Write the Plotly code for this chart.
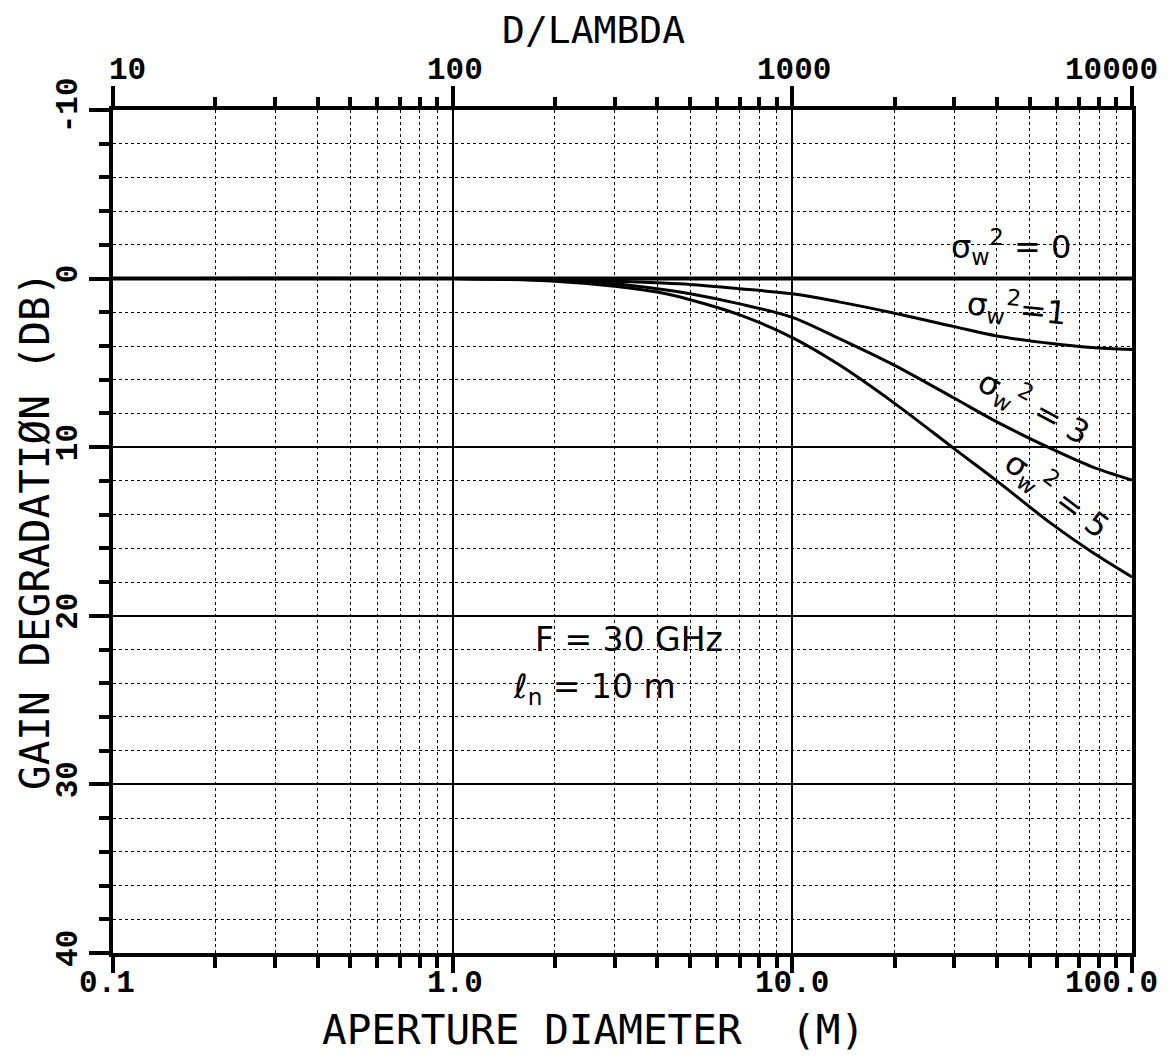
import numpy as np
import plotly.graph_objects as go

# ---- data ----
diameter_m = [0.1, 1.0, 2.0, 3.0, 4.0, 5.0, 7.0, 10.0, 13.7, 20.0, 30.0, 40.0, 58.0, 76.0, 100.0]
loss_s0 = [0.0] * len(diameter_m)
loss_s1 = [0.0, 0.0, 0.05, 0.15, 0.25, 0.35, 0.6, 0.9, 1.38, 2.05, 2.85, 3.4, 3.85, 4.08, 4.2]
loss_s3 = [0.0, 0.0, 0.1, 0.3, 0.6, 0.9, 1.5, 2.3, 3.55, 5.15, 7.1, 8.5, 10.1, 11.15, 11.95]
loss_s5 = [0.0, 0.0, 0.15, 0.45, 0.8, 1.25, 2.15, 3.5, 5.1, 7.4, 10.1, 12.0, 14.55, 16.2, 17.7]

x_tick_vals = [0.1, 1.0, 10.0, 100.0]
x_tick_text = ["0.1", "1.0", "10.0", "100.0"]
top_tick_vals = [10, 100, 1000, 10000]
top_tick_text = ["10", "100", "1000", "10000"]
y_tick_vals = [-10, 0, 10, 20, 30, 40]
y_tick_text = ["-10", "0", "10", "20", "30", "40"]

x_minor = [m * 10.0 ** e for e in (-1, 0, 1) for m in range(2, 10)]
top_minor = [m * 10.0 ** e for e in (1, 2, 3) for m in range(2, 10)]
y_minor = list(range(-10, 41, 2))

INK = "black"
tickfont = dict(family="Liberation Mono", size=31, color=INK, weight="bold")
titlefont = dict(family="DejaVu Sans Mono", size=41, color=INK)

fig = go.Figure()
for i, ys in enumerate((loss_s0, loss_s1, loss_s3, loss_s5)):
    fig.add_trace(go.Scatter(x=diameter_m, y=ys, mode="lines",
                             line=dict(color=INK, width=4 if i == 0 else 3,
                                       shape="spline", smoothing=0.9),
                             showlegend=False, hoverinfo="skip"))
# invisible trace to activate top axis
fig.add_trace(go.Scatter(x=[10, 10000], y=[0, 0], xaxis="x2", mode="markers",
                         marker=dict(opacity=0), showlegend=False, hoverinfo="skip"))

fig.update_layout(
    width=1172, height=1063,
    margin=dict(l=113, r=40, t=110, b=110, autoexpand=False),
    paper_bgcolor="white", plot_bgcolor="white",
    xaxis=dict(type="log", range=[-1, 2], showline=True, linewidth=4, linecolor=INK,
               mirror=False, ticks="outside", ticklen=16, tickwidth=4, tickcolor=INK,
               tickvals=x_tick_vals, showticklabels=False,
               showgrid=True, gridcolor=INK, gridwidth=1.5, zeroline=False, automargin=False,
               minor=dict(tickvals=x_minor, ticks="outside", ticklen=11, tickwidth=4,
                          tickcolor=INK, showgrid=True, gridcolor=INK, gridwidth=1.3,
                          griddash="dot")),
    xaxis2=dict(type="log", range=[1, 4], overlaying="x", side="top", anchor="y",
                showline=True, linewidth=4, linecolor=INK, automargin=False,
                ticks="outside", ticklen=20, tickwidth=4, tickcolor=INK,
                tickvals=top_tick_vals, showticklabels=False,
                showgrid=False, zeroline=False,
                minor=dict(tickvals=top_minor, ticks="outside", ticklen=9, tickwidth=4,
                           tickcolor=INK, showgrid=False)),
    yaxis=dict(range=[40, -10], showline=True, linewidth=4, linecolor=INK, mirror=True,
               ticks="outside", ticklen=20, tickwidth=4, tickcolor=INK, automargin=False,
               tickvals=y_tick_vals, ticktext=y_tick_text, tickfont=tickfont, tickangle=-90,
               showgrid=True, gridcolor=INK, gridwidth=1.5, zeroline=False,
               minor=dict(tickvals=y_minor, ticks="outside", ticklen=10, tickwidth=4,
                          tickcolor=INK, showgrid=True, gridcolor=INK, gridwidth=1.3,
                          griddash="dot")),
)

annotations = []
# bottom tick labels (aperture diameter)
bottom_shift = [-6, 2, 0, 0]
for v, t, s in zip(x_tick_vals, x_tick_text, bottom_shift):
    last = v == x_tick_vals[-1]
    annotations.append(dict(text=t, x=np.log10(v), y=-0.036, xref="x", yref="paper",
                            xanchor="right" if last else "center", yanchor="middle",
                            xshift=28 if last else s, showarrow=False, font=tickfont))
# top tick labels (D/lambda)
top_shift = [14, 2, 2, 0]
for v, t, s in zip(top_tick_vals, top_tick_text, top_shift):
    last = v == top_tick_vals[-1]
    annotations.append(dict(text=t, x=np.log10(v), y=1.047, xref="x2", yref="paper",
                            xanchor="right" if last else "center", yanchor="middle",
                            xshift=28 if last else s, showarrow=False, font=tickfont))

ann_font = dict(family="DejaVu Sans", size=32, color=INK)
txt_font = dict(family="DejaVu Sans", size=33, color=INK)
sig = "σ<sub>w</sub><sup>2</sup>"
annotations += [
    dict(text="APERTURE DIAMETER  (M)", xref="paper", yref="paper", x=0.472, y=-0.091,
         xanchor="center", yanchor="middle", showarrow=False, font=titlefont),
    dict(text="D/LAMBDA", xref="paper", yref="paper", x=0.472, y=1.095,
         xanchor="center", yanchor="middle", showarrow=False,
         font=dict(family="DejaVu Sans Mono", size=38, color=INK)),
    dict(text="GAIN DEGRADATIØN (DB)", xref="paper", yref="paper", x=-0.077, y=0.5,
         xanchor="center", yanchor="middle", showarrow=False, font=titlefont, textangle=-90),
    dict(text=sig + " = 0", x=np.log10(44), y=-1.9, xref="x", yref="y",
         showarrow=False, font=ann_font),
    dict(text=sig + "=1", x=np.log10(46), y=1.75, xref="x", yref="y",
         showarrow=False, font=ann_font, textangle=6),
    dict(text=sig + " = 3", x=np.log10(51.5), y=7.6, xref="x", yref="y",
         showarrow=False, font=ann_font, textangle=28),
    dict(text=sig + " = 5", x=np.log10(60), y=12.8, xref="x", yref="y",
         showarrow=False, font=ann_font, textangle=37),
    dict(text="F = 30 GHz", x=np.log10(1.72), y=21.4, xref="x", yref="y", xanchor="left",
         showarrow=False, font=txt_font),
    dict(text="<i>ℓ</i><sub>n</sub> = 10 m", x=np.log10(1.49), y=24.3, xref="x", yref="y",
         xanchor="left", showarrow=False, font=txt_font),
]
fig.update_layout(annotations=annotations)

fig.write_html("out.html")
